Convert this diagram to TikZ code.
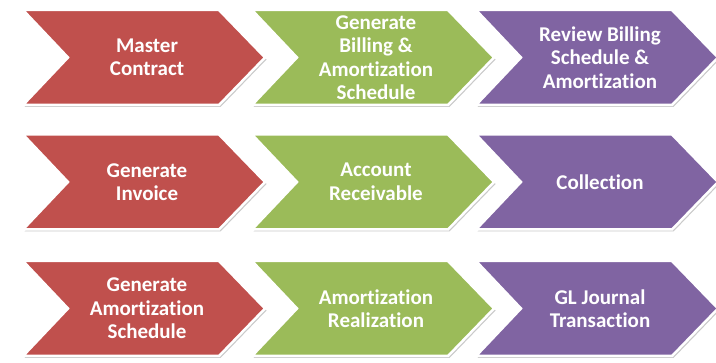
\documentclass[tikz,border=0pt]{standalone}
\usepackage{fontspec}
\setmainfont[Ligatures=NoCommon]{Carlito}
\usetikzlibrary{shadows}
\definecolor{cred}{HTML}{C0504D}
\definecolor{cgreen}{HTML}{9BBB59}
\definecolor{cpurple}{HTML}{8064A2}
\tikzset{
  chevshape/.style={draw=white, line width=2.5pt, line join=miter,
    drop shadow={shadow xshift=1.5pt, shadow yshift=-2pt, opacity=0.35, fill=black!60}},
  chevtext/.style={text=white, font=\bfseries\fontsize{21}{23.5}\selectfont, align=center}
}
\newcommand{\mychev}[5]{%
  \path[chevshape, fill=#4] (#2,#3-47.5) -- (#2+196,#3-47.5) -- (#2+242,#3) -- (#2+196,#3+47.5) -- (#2,#3+47.5) -- (#2+45,#3) -- cycle;
  \node[chevtext] (#1) at (#2+124,#3) {#5};
}
\begin{document}
\begin{tikzpicture}[x=1pt,y=-1pt]
\useasboundingbox (0,0) rectangle (716,363);
\mychev{mc}{23}{57.5}{cred}{Master\\Contract}
\mychev{gb}{252}{57.5}{cgreen}{Generate\\Billing \&\\Amortization\\Schedule}
\mychev{rb}{476}{57.5}{cpurple}{Review Billing\\Schedule \&\\Amortization}
\mychev{gi}{23}{182}{cred}{Generate\\Invoice}
\mychev{ar}{252}{182}{cgreen}{Account\\Receivable}
\mychev{co}{476}{182}{cpurple}{Collection}
\mychev{ga}{23}{308.5}{cred}{Generate\\Amortization\\Schedule}
\mychev{am}{252}{308.5}{cgreen}{Amortization\\Realization}
\mychev{gl}{476}{308.5}{cpurple}{GL Journal\\Transaction}
\end{tikzpicture}
\end{document}
